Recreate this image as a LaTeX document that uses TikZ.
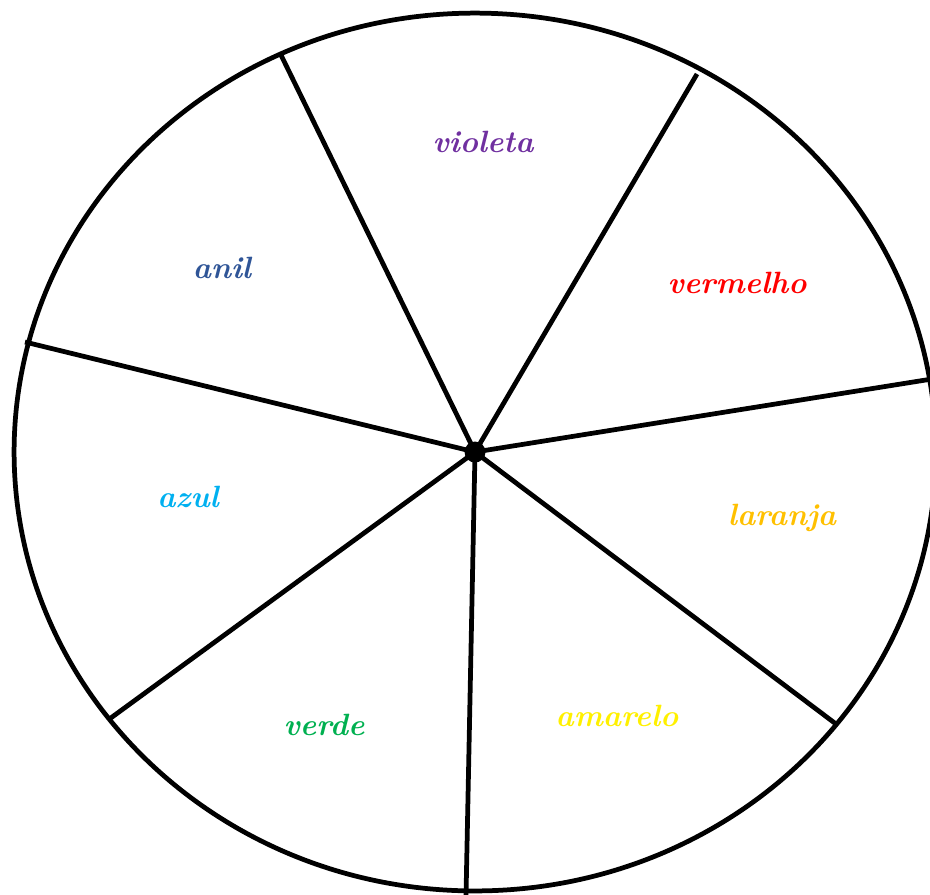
\documentclass[tikz,border=0pt]{standalone}
\usepackage{fontspec}
\usepackage{xcolor}
\usepackage{tikz}
\usetikzlibrary{positioning}
\definecolor{violetaclr}{RGB}{112,48,160}
\definecolor{vermelhoclr}{RGB}{255,0,0}
\definecolor{anilclr}{RGB}{47,85,151}
\definecolor{azulclr}{RGB}{0,176,240}
\definecolor{laranjaclr}{RGB}{255,192,0}
\definecolor{amareloclr}{RGB}{255,240,0}
\definecolor{verdeclr}{RGB}{0,176,80}

\begin{document}
\begin{tikzpicture}[
  x=0.02cm, y=-0.02cm,
  rim/.style={draw=black, line width=0.095cm},
  spoke/.style={draw=black, line width=0.095cm},
  sector/.style={font=\fontsize{17.5}{19}\selectfont\bfseries\itshape, inner sep=0pt}
]
  % Frame of the page (the disc is cut at right and bottom)
  \clip (0,0) rectangle (930,894);

  % Centre and rim points
  \coordinate (hub) at (475,452);
  \coordinate (r1) at (281,55);
  \coordinate (r2) at (697,74);
  \coordinate (r3) at (932,379);
  \coordinate (r4) at (836,724);
  \coordinate (r5) at (466,896);
  \coordinate (r6) at (108,720);
  \coordinate (r7) at (25,342);

  % Disc outline
  \draw[rim] (hub) ellipse [x radius=9.22cm, y radius=8.78cm];

  % Spokes
  \foreach \i in {1,...,7}
    \draw[spoke] (hub) -- (r\i);
  \fill[black] (hub) circle [radius=0.21cm];

  % Colour names in the sectors
  \node[sector, text=violetaclr] (violeta) at (483,142) {violeta};
  \node[sector, text=vermelhoclr] (vermelho) at (737,283) {vermelho};
  \node[sector, text=anilclr] (anil) at (222,268) {anil};
  \node[sector, text=azulclr] (azul) at (188,497) {azul};
  \node[sector, text=laranjaclr] (laranja) at (782,518) {laranja};
  \node[sector, text=amareloclr] (amarelo) at (617,716) {amarelo};
  \node[sector, text=verdeclr] (verde) at (324,725) {verde};
\end{tikzpicture}
\end{document}
